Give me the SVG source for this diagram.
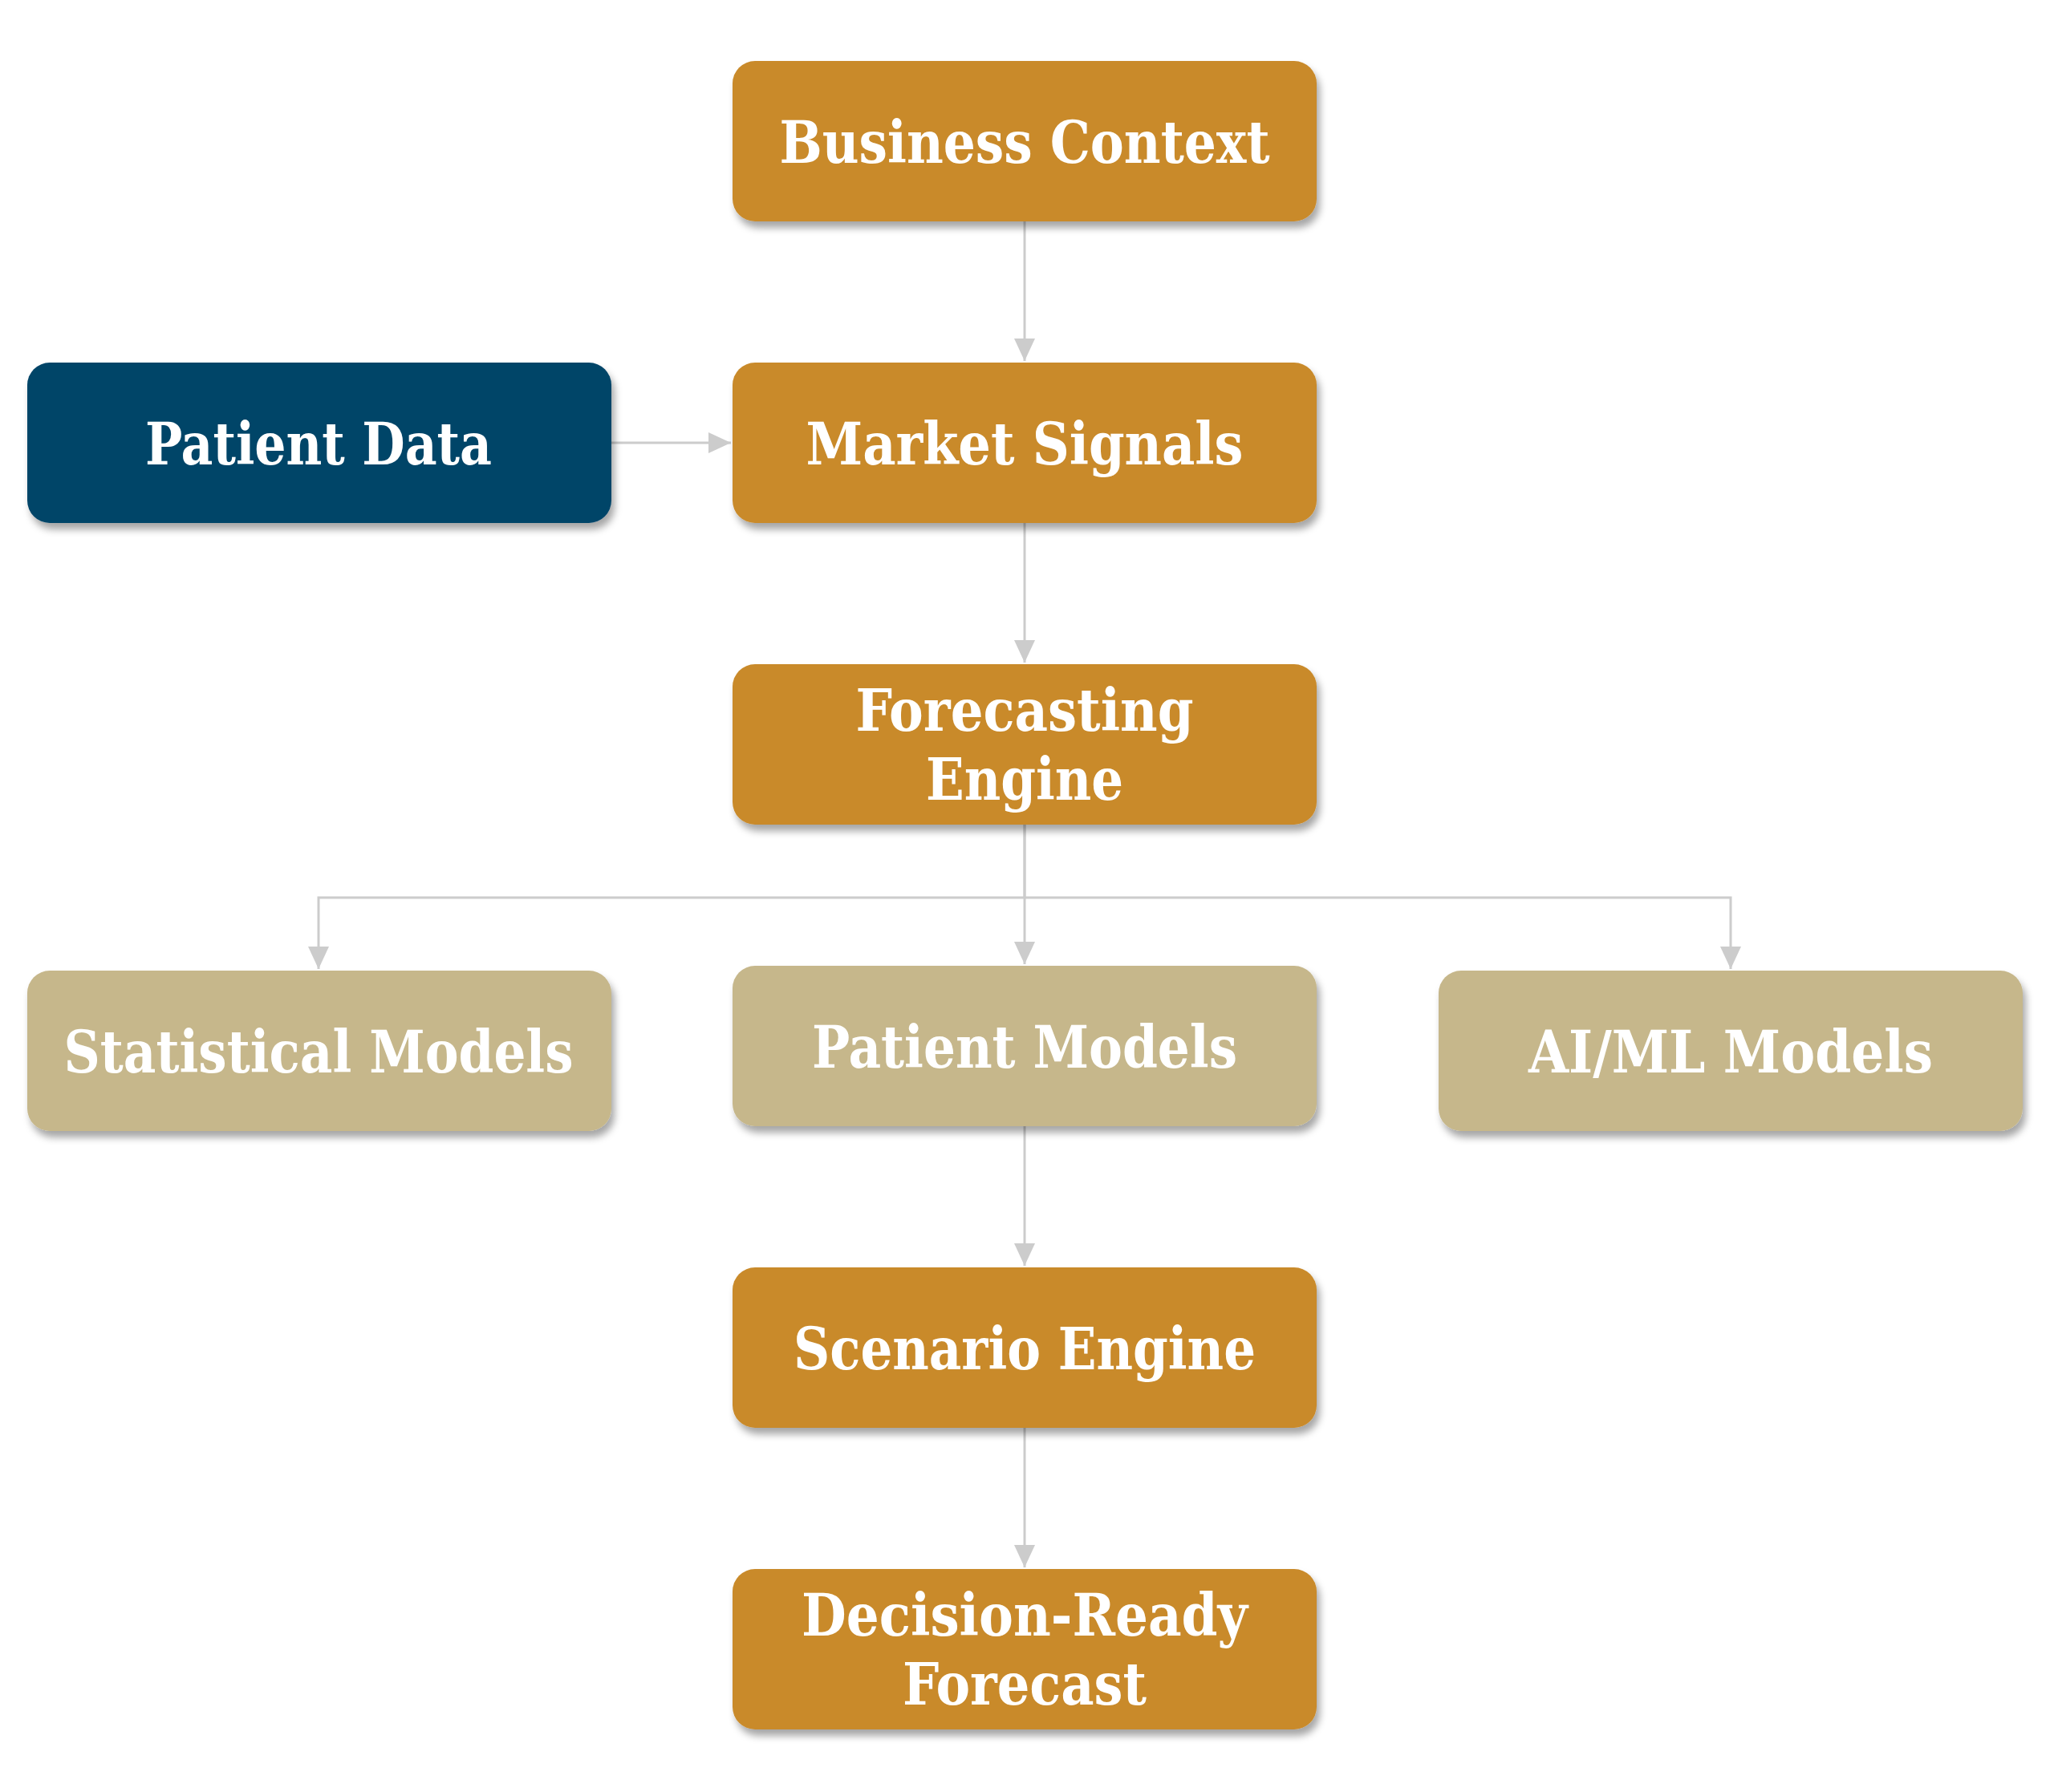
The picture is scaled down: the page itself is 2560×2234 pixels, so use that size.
<svg xmlns="http://www.w3.org/2000/svg" width="2560" height="2234" viewBox="0 0 2560 2234">
<style>
.box{stroke:none;filter:url(#sh)}
.gold{fill:#C98A2B}
.navy{fill:#024468}
.tan{fill:#C6B78B}
.lbl{font-family:"DejaVu Serif","Liberation Serif",serif;font-weight:bold;font-stretch:condensed;font-size:72px;fill:#FFFFFF;text-anchor:middle}
.con{fill:none;stroke:#CCCCCC;stroke-width:3}
</style>
<defs>
<filter id="sh" x="-10%" y="-20%" width="125%" height="150%">
<feDropShadow dx="4" dy="8" stdDeviation="5" flood-color="#000" flood-opacity="0.35"/>
</filter>
<marker id="arr" markerUnits="userSpaceOnUse" markerWidth="28" markerHeight="26" refX="28" refY="13" orient="auto">
<path d="M0,0 L28,13 L0,26 Z" fill="#CCCCCC"/>
</marker>
</defs>
<g id="connectors">
<path class="con" d="M1277,276 V450" marker-end="url(#arr)"/>
<path class="con" d="M762,552 H911" marker-end="url(#arr)"/>
<path class="con" d="M1277,652 V826" marker-end="url(#arr)"/>
<path class="con" d="M1277,1028 V1119 H397 V1208" marker-end="url(#arr)"/>
<path class="con" d="M1277,1028 V1202" marker-end="url(#arr)"/>
<path class="con" d="M1277,1119 H2157 V1208" marker-end="url(#arr)"/>
<path class="con" d="M1277,1404 V1578" marker-end="url(#arr)"/>
<path class="con" d="M1277,1780 V1954" marker-end="url(#arr)"/>
</g>
<g id="business-context">
<rect class="box gold" x="913" y="76" width="728" height="200" rx="28"/>
<text class="lbl" x="1277" y="203" textLength="611" lengthAdjust="spacingAndGlyphs">Business Context</text>
</g>
<g id="patient-data">
<rect class="box navy" x="34" y="452" width="728" height="200" rx="28"/>
<text class="lbl" x="397" y="579" textLength="432" lengthAdjust="spacingAndGlyphs">Patient Data</text>
</g>
<g id="market-signals">
<rect class="box gold" x="913" y="452" width="728" height="200" rx="28"/>
<text class="lbl" x="1277" y="579" textLength="545" lengthAdjust="spacingAndGlyphs">Market Signals</text>
</g>
<g id="forecasting-engine">
<rect class="box gold" x="913" y="828" width="728" height="200" rx="28"/>
<text class="lbl" x="1277" y="911" textLength="421" lengthAdjust="spacingAndGlyphs">Forecasting</text>
<text class="lbl" x="1277" y="997" textLength="246" lengthAdjust="spacingAndGlyphs">Engine</text>
</g>
<g id="statistical-models">
<rect class="box tan" x="34" y="1210" width="728" height="200" rx="28"/>
<text class="lbl" x="397" y="1337" textLength="635" lengthAdjust="spacingAndGlyphs">Statistical Models</text>
</g>
<g id="patient-models">
<rect class="box tan" x="913" y="1204" width="728" height="200" rx="28"/>
<text class="lbl" x="1277" y="1331" textLength="530" lengthAdjust="spacingAndGlyphs">Patient Models</text>
</g>
<g id="aiml-models">
<rect class="box tan" x="1793" y="1210" width="728" height="200" rx="28"/>
<text class="lbl" x="2157" y="1337" textLength="504" lengthAdjust="spacingAndGlyphs">AI/ML Models</text>
</g>
<g id="scenario-engine">
<rect class="box gold" x="913" y="1580" width="728" height="200" rx="28"/>
<text class="lbl" x="1277" y="1707" textLength="576" lengthAdjust="spacingAndGlyphs">Scenario Engine</text>
</g>
<g id="decision-ready-forecast">
<rect class="box gold" x="913" y="1956" width="728" height="200" rx="28"/>
<text class="lbl" x="1277" y="2039" textLength="556" lengthAdjust="spacingAndGlyphs">Decision-Ready</text>
<text class="lbl" x="1277" y="2125" textLength="304" lengthAdjust="spacingAndGlyphs">Forecast</text>
</g>
</svg>
